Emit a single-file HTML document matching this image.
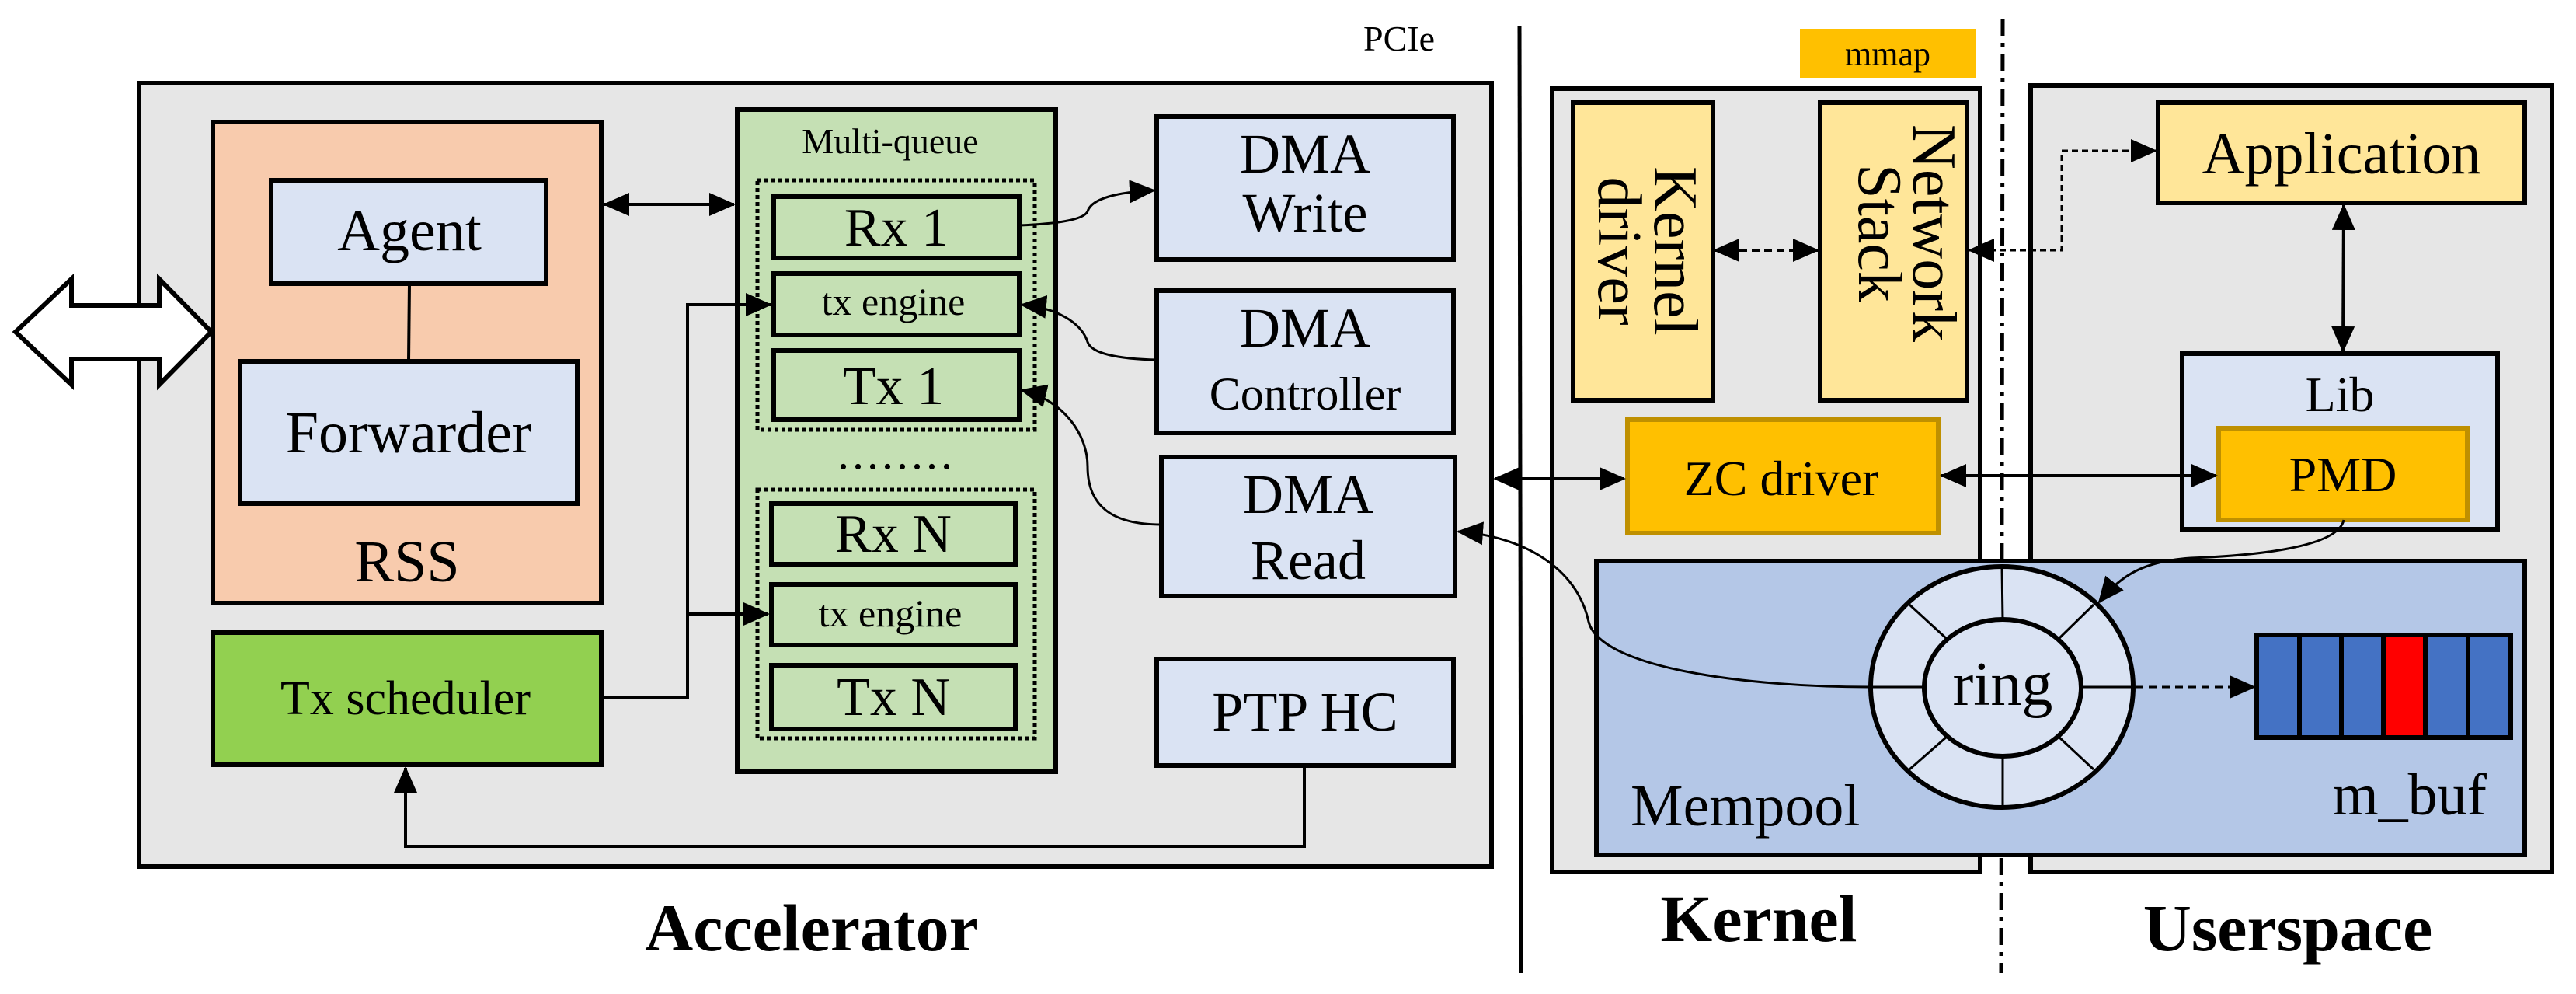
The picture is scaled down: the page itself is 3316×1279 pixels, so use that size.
<!DOCTYPE html>
<html><head><meta charset="utf-8"><style>
html,body{margin:0;padding:0;background:#fff;}
svg{display:block;}
text{font-family:"Liberation Serif",serif;fill:#000;}
</style></head><body>
<svg width="3316" height="1279" viewBox="0 0 3316 1279" xmlns="http://www.w3.org/2000/svg">
<defs>
<marker id="a" markerUnits="userSpaceOnUse" markerWidth="34" markerHeight="30" refX="32" refY="15" orient="auto-start-reverse">
<path d="M0,0 L34,15 L0,30 Z" fill="#000"/></marker>
</defs>

<!-- Accelerator -->
<rect x="179" y="107" width="1741" height="1008" fill="#E6E6E6" stroke="#000" stroke-width="6"/>
<rect x="274" y="157" width="500" height="619" fill="#F8CBAD" stroke="#000" stroke-width="6"/>
<rect x="349" y="232" width="354" height="133" fill="#DAE3F3" stroke="#000" stroke-width="6"/>
<rect x="309" y="465" width="434" height="183" fill="#DAE3F3" stroke="#000" stroke-width="6"/>
<line x1="527" y1="365" x2="526" y2="465" stroke="#000" stroke-width="4"/>
<text x="527" y="322" font-size="76" text-anchor="middle">Agent</text>
<text x="526" y="582" font-size="76" text-anchor="middle">Forwarder</text>
<text x="524" y="748" font-size="76" text-anchor="middle">RSS</text>
<rect x="274" y="814" width="500" height="170" fill="#92D050" stroke="#000" stroke-width="6"/>
<text x="522" y="919" font-size="62" text-anchor="middle">Tx scheduler</text>

<!-- Big double arrow -->
<polygon points="20,427 92,359 92,393 205,393 205,359 272,427 205,495 205,462 92,462 92,495" fill="#fff" stroke="#000" stroke-width="6"/>

<!-- Multi-queue -->
<rect x="949" y="141" width="410" height="852" fill="#C5E0B4" stroke="#000" stroke-width="6"/>
<text x="1146" y="197" font-size="46" text-anchor="middle">Multi-queue</text>
<rect x="975" y="232" width="357" height="321" fill="none" stroke="#000" stroke-width="5" stroke-dasharray="5,4"/>
<rect x="996" y="253" width="316" height="79" fill="#C5E0B4" stroke="#000" stroke-width="6"/>
<text x="1154" y="316" font-size="70" text-anchor="middle">Rx 1</text>
<rect x="996" y="352" width="316" height="79" fill="#C5E0B4" stroke="#000" stroke-width="6"/>
<text x="1150" y="405" font-size="50" text-anchor="middle">tx engine</text>
<rect x="996" y="451" width="316" height="89" fill="#C5E0B4" stroke="#000" stroke-width="6"/>
<text x="1150" y="520" font-size="70" text-anchor="middle">Tx 1</text>
<text x="1154" y="603" font-size="60" text-anchor="middle" letter-spacing="4">........</text>
<rect x="975" y="630" width="357" height="320" fill="none" stroke="#000" stroke-width="5" stroke-dasharray="5,4"/>
<rect x="993" y="648" width="314" height="78" fill="#C5E0B4" stroke="#000" stroke-width="6"/>
<text x="1150" y="710" font-size="70" text-anchor="middle">Rx N</text>
<rect x="993" y="752" width="314" height="78" fill="#C5E0B4" stroke="#000" stroke-width="6"/>
<text x="1146" y="806" font-size="50" text-anchor="middle">tx engine</text>
<rect x="993" y="856" width="314" height="82" fill="#C5E0B4" stroke="#000" stroke-width="6"/>
<text x="1150" y="920" font-size="70" text-anchor="middle">Tx N</text>

<!-- DMA blocks -->
<rect x="1489" y="150" width="382" height="184" fill="#DAE3F3" stroke="#000" stroke-width="6"/>
<text x="1680" y="222" font-size="72" text-anchor="middle">DMA</text>
<text x="1680" y="298" font-size="72" text-anchor="middle">Write</text>
<rect x="1489" y="374" width="382" height="183" fill="#DAE3F3" stroke="#000" stroke-width="6"/>
<text x="1680" y="446" font-size="72" text-anchor="middle">DMA</text>
<text x="1680" y="527" font-size="60" text-anchor="middle">Controller</text>
<rect x="1495" y="588" width="378" height="179" fill="#DAE3F3" stroke="#000" stroke-width="6"/>
<text x="1684" y="660" font-size="72" text-anchor="middle">DMA</text>
<text x="1684" y="745" font-size="72" text-anchor="middle">Read</text>
<rect x="1489" y="848" width="382" height="137" fill="#DAE3F3" stroke="#000" stroke-width="6"/>
<text x="1680" y="940" font-size="72" text-anchor="middle">PTP HC</text>

<!-- Accelerator connectors -->
<line x1="778" y1="263" x2="945" y2="263" stroke="#000" stroke-width="4" marker-start="url(#a)" marker-end="url(#a)"/>
<polyline points="774,897 885,897 885,392 992,392" fill="none" stroke="#000" stroke-width="4" marker-end="url(#a)"/>
<polyline points="885,790 989,790" fill="none" stroke="#000" stroke-width="4" marker-end="url(#a)"/>
<polyline points="1679,985 1679,1089 522,1089 522,988" fill="none" stroke="#000" stroke-width="4" marker-end="url(#a)"/>
<path d="M1312,290 C1360,288 1395,283 1400,272 C1405,255 1440,247 1486,245" fill="none" stroke="#000" stroke-width="3" marker-end="url(#a)"/>
<path d="M1489,463 C1440,462 1405,455 1400,440 C1392,415 1360,396 1315,392" fill="none" stroke="#000" stroke-width="3" marker-end="url(#a)"/>
<path d="M1495,675 C1430,675 1400,650 1400,600 C1400,560 1370,515 1315,502" fill="none" stroke="#000" stroke-width="3" marker-end="url(#a)"/>
<text x="1755" y="65" font-size="46">PCIe</text>

<!-- PCIe line -->
<line x1="1956" y1="33" x2="1958" y2="1252" stroke="#000" stroke-width="5"/>

<!-- dash-dot separator (under mempool) -->
<line x1="2578" y1="24" x2="2576" y2="1252" stroke="#000" stroke-width="5" stroke-dasharray="22,9,5,9"/>

<!-- Kernel -->
<rect x="1998" y="114" width="551" height="1008" fill="#E6E6E6" stroke="#000" stroke-width="6"/>
<rect x="2317" y="37" width="226" height="63" fill="#FFC000"/>
<text x="2430" y="84" font-size="44" text-anchor="middle">mmap</text>
<rect x="2025" y="132" width="180" height="383" fill="#FFE699" stroke="#000" stroke-width="6"/>
<text transform="translate(2114,323) rotate(90)" font-size="80" text-anchor="middle"><tspan x="0" y="-16">Kernel</tspan><tspan x="0" y="56">driver</tspan></text>
<rect x="2343" y="132" width="189" height="383" fill="#FFE699" stroke="#000" stroke-width="6"/>
<text transform="translate(2437,300) rotate(90)" font-size="80" text-anchor="middle"><tspan x="0" y="-26">Network</tspan><tspan x="0" y="44">Stack</tspan></text>
<rect x="2095" y="540" width="400" height="146" fill="#FFC000" stroke="#BF9000" stroke-width="6"/>
<text x="2293" y="637" font-size="64" text-anchor="middle">ZC driver</text>

<!-- Userspace -->
<rect x="2614" y="110" width="671" height="1012" fill="#E6E6E6" stroke="#000" stroke-width="6"/>
<rect x="2778" y="132" width="472" height="129" fill="#FFE699" stroke="#000" stroke-width="6"/>
<text x="3014" y="223" font-size="76" text-anchor="middle">Application</text>
<rect x="2809" y="455" width="406" height="226" fill="#DAE3F3" stroke="#000" stroke-width="6"/>
<text x="3012" y="529" font-size="64" text-anchor="middle">Lib</text>
<rect x="2856" y="551" width="320" height="118" fill="#FFC000" stroke="#BF9000" stroke-width="6"/>
<text x="3016" y="632" font-size="64" text-anchor="middle">PMD</text>

<!-- Mempool -->
<rect x="2055" y="722" width="1195" height="378" fill="#B4C7E7" stroke="#000" stroke-width="6"/>
<text x="2099" y="1062" font-size="76">Mempool</text>
<text x="3201" y="1048" font-size="76" text-anchor="end">m_buf</text>
<ellipse cx="2577" cy="884" rx="169" ry="155" fill="#DAE3F3" stroke="#000" stroke-width="6"/>
<g stroke="#000" stroke-width="3">
<line x1="2577" y1="729" x2="2578" y2="797"/>
<line x1="2578" y1="972" x2="2578" y2="1039"/>
<line x1="2408" y1="884" x2="2477" y2="884"/>
<line x1="2679" y1="884" x2="2746" y2="884"/>
<line x1="2458" y1="778" x2="2506" y2="822"/>
<line x1="2695" y1="778" x2="2650" y2="822"/>
<line x1="2458" y1="990" x2="2506" y2="948"/>
<line x1="2695" y1="990" x2="2650" y2="948"/>
</g>
<ellipse cx="2578" cy="885" rx="101" ry="88" fill="#DAE3F3" stroke="#000" stroke-width="6"/>
<text x="2578" y="907" font-size="80" text-anchor="middle">ring</text>
<g stroke="#000" stroke-width="6">
<rect x="2905" y="817" width="327" height="132" fill="#4472C4"/>
<rect x="2960" y="817" width="54" height="132" fill="#4472C4"/>
<rect x="3068" y="817" width="54" height="132" fill="#FF0000"/>
<rect x="3122" y="817" width="55" height="132" fill="#4472C4"/>
</g>

<!-- Kernel/User connectors -->
<line x1="1924" y1="616" x2="2091" y2="616" stroke="#000" stroke-width="4" marker-start="url(#a)" marker-end="url(#a)"/>
<line x1="2207" y1="322" x2="2340" y2="322" stroke="#000" stroke-width="4" stroke-dasharray="10,6" marker-start="url(#a)" marker-end="url(#a)"/>
<polyline points="2535,322 2654,322 2654,194 2775,194" fill="none" stroke="#000" stroke-width="3" stroke-dasharray="8,5" marker-start="url(#a)" marker-end="url(#a)"/>
<line x1="3017" y1="264" x2="3016" y2="452" stroke="#000" stroke-width="4" marker-start="url(#a)" marker-end="url(#a)"/>
<line x1="2499" y1="612" x2="2853" y2="612" stroke="#000" stroke-width="4" marker-start="url(#a)" marker-end="url(#a)"/>
<path d="M3017,669 C3010,705 2900,715 2820,718 C2760,722 2730,740 2702,775" fill="none" stroke="#000" stroke-width="3" marker-end="url(#a)"/>
<line x1="2749" y1="884" x2="2902" y2="884" stroke="#000" stroke-width="3" stroke-dasharray="10,7" marker-end="url(#a)"/>
<path d="M2407,884 C2250,884 2060,860 2045,800 C2030,730 1960,690 1877,684" fill="none" stroke="#000" stroke-width="3" marker-end="url(#a)"/>

<!-- Bottom labels -->
<text x="1045" y="1223" font-size="86" font-weight="bold" text-anchor="middle">Accelerator</text>
<text x="2264" y="1211" font-size="86" font-weight="bold" text-anchor="middle">Kernel</text>
<text x="2945" y="1223" font-size="86" font-weight="bold" text-anchor="middle">Userspace</text>
</svg>
</body></html>
